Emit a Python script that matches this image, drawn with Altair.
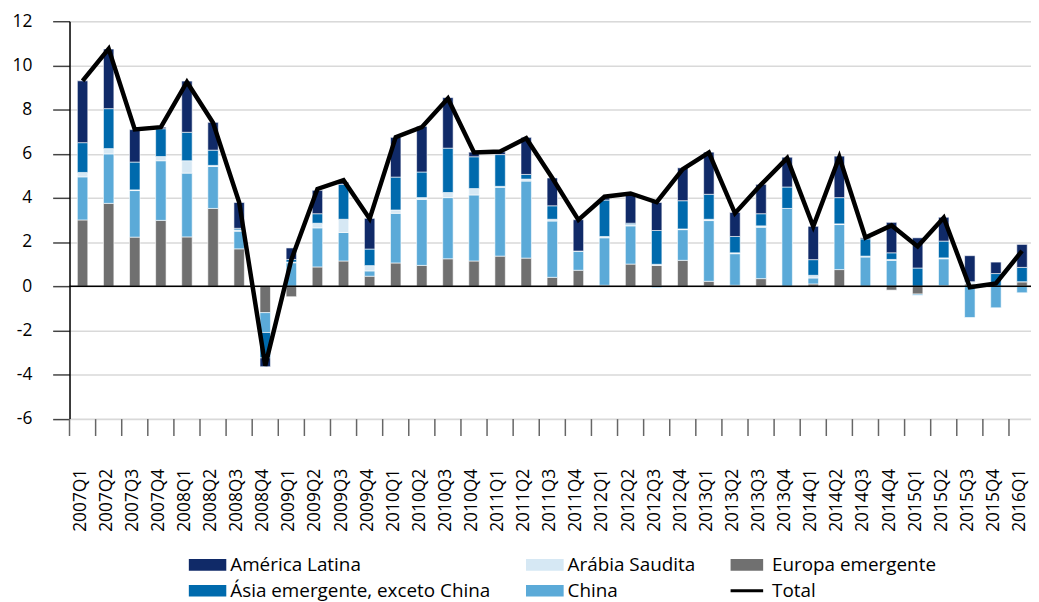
import altair as alt
import pandas as pd

quarters = [
    "2007Q1", "2007Q2", "2007Q3", "2007Q4", "2008Q1", "2008Q2", "2008Q3", "2008Q4",
    "2009Q1", "2009Q2", "2009Q3", "2009Q4", "2010Q1", "2010Q2", "2010Q3", "2010Q4",
    "2011Q1", "2011Q2", "2011Q3", "2011Q4", "2012Q1", "2012Q2", "2012Q3", "2012Q4",
    "2013Q1", "2013Q2", "2013Q3", "2013Q4", "2014Q1", "2014Q2", "2014Q3", "2014Q4",
    "2015Q1", "2015Q2", "2015Q3", "2015Q4", "2016Q1",
]

europa = [3.0, 3.75, 2.22, 2.98, 2.23, 3.52, 1.69, -1.2,
          -0.48, 0.87, 1.14, 0.45, 1.05, 0.94, 1.24, 1.14,
          1.36, 1.27, 0.40, 0.72, 0.04, 1.0, 0.94, 1.17,
          0.22, 0.04, 0.34, 0.0, 0.1, 0.75, 0.0, -0.18,
          -0.36, 0.02, 0.1, 0.0, 0.2]
china = [1.95, 2.24, 2.11, 2.7, 2.89, 1.9, 0.8, -0.9,
         1.06, 1.77, 1.29, 0.24, 2.25, 2.99, 2.77, 2.99,
         3.12, 3.49, 2.55, 0.85, 2.15, 1.73, -0.07, 1.39,
         2.75, 1.43, 2.33, 3.52, 0.27, 2.04, 1.32, 1.17,
         -0.05, 1.22, -1.42, -0.98, -0.3]
arabia = [0.2, 0.24, 0.03, 0.19, 0.56, 0.05, 0.06, 0.0,
          0.03, 0.21, 0.6, 0.24, 0.15, 0.08, 0.23, 0.29,
          0.04, 0.09, 0.08, 0.0, 0.06, 0.06, 0.05, 0.03,
          0.06, 0.04, 0.06, 0.0, 0.12, 0.03, 0.04, 0.04,
          0.0, 0.04, 0.1, 0.0, 0.0]
asia = [1.35, 1.81, 1.26, 1.26, 1.29, 0.69, 0.07, -1.15,
        0.12, 0.43, 1.58, 0.75, 1.49, 1.16, 2.01, 1.44,
        1.44, 0.21, 0.61, 0.02, 1.65, 0.06, 1.53, 1.28,
        1.13, 0.74, 0.55, 0.97, 0.71, 1.19, 0.78, 0.3,
        0.82, 0.76, 0.0, 0.57, 0.65]
latam = [2.8, 2.7, 1.47, 0.07, 2.32, 1.26, 1.17, -0.4,
         0.52, 1.06, 0.1, 1.39, 1.8, 2.07, 2.29, 0.21,
         0.12, 1.68, 1.26, 1.42, 0.1, 1.35, 1.27, 1.49,
         1.91, 1.09, 1.33, 1.35, 1.51, 1.88, 0.05, 1.38,
         1.37, 1.08, 1.18, 0.52, 1.04]
total = [9.3, 10.75, 7.1, 7.2, 9.25, 7.4, 3.8, -3.6,
         1.2, 4.4, 4.8, 3.05, 6.75, 7.2, 8.5, 6.05,
         6.1, 6.7, 4.9, 3.0, 4.05, 4.2, 3.8, 5.3,
         6.05, 3.3, 4.6, 5.8, 2.7, 5.85, 2.2, 2.75,
         1.8, 3.1, -0.05, 0.12, 1.6]

stack_names = ["Europa emergente", "China", "Arábia Saudita",
               "Ásia emergente, exceto China", "América Latina"]
stack_values = [europa, china, arabia, asia, latam]

legend_names = ["América Latina", "Arábia Saudita", "Europa emergente",
                "Ásia emergente, exceto China", "China", "Total"]
legend_colors = ["#102A68", "#D6E8F4", "#707070", "#006AAD", "#5BAAD8", "#000000"]

rows = []
for i, q in enumerate(quarters):
    for k, (name, vals) in enumerate(zip(stack_names, stack_values)):
        rows.append({"Trimestre": q, "Região": name, "Valor": vals[i], "ordem": k})
bars_df = pd.DataFrame(rows)
total_df = pd.DataFrame({"Trimestre": quarters, "Total": total})
zero_df = pd.DataFrame({"zero": [0]})

FONT = "Open Sans"
STEP = 26.3
N = len(quarters)
PLOT_H = 400.5

x_scale = alt.Scale(type="band", range=[0, STEP * N], paddingInner=0.6, paddingOuter=0.3)
x_axis = alt.Axis(
    title=None, labelAngle=270, labelAlign="right", labelBaseline="middle",
    labelFontSize=17.5, labelFont=FONT, labelColor="#000000", labelPadding=50,
    labelOffset=-2, ticks=False, domain=False, grid=False, labelOverlap=False,
)
y_axis = alt.Axis(
    title=None, values=list(range(-6, 13, 2)), labelFontSize=17.5, labelFont=FONT,
    labelColor="#000000", labelPadding=21, tickSize=17, tickColor="#444444",
    tickWidth=1.5, domainColor="#000000", domainWidth=1.5,
    gridColor="#D9D9D9", gridWidth=1.5,
    labelExpr="datum.value < 0 ? '-' + abs(datum.value) : datum.label",
)

rect_path = "M-1,-0.31H1V0.31H-1Z"
narrow_path = "M-1,-0.31H0.74V0.31H-1Z"
line_path = "M-1,-0.08H0.74V0.08H-1Z"
symbol_expr = (
    f"datum.value == 'Total' ? '{line_path}' : "
    f"(datum.value == 'Europa emergente' ? '{narrow_path}' : '{rect_path}')"
)

bars = alt.Chart(bars_df).mark_bar(stroke="white", strokeWidth=0.6).encode(
    x=alt.X("Trimestre:N", sort=quarters, scale=x_scale, axis=x_axis),
    y=alt.Y("sum(Valor):Q", scale=alt.Scale(domain=[-6, 12], nice=False), axis=y_axis),
    color=alt.Color(
        "Região:N",
        scale=alt.Scale(domain=legend_names, range=legend_colors),
        legend=alt.Legend(
            title=None, orient="none", legendX=120, legendY=541, columns=3,
            direction="horizontal", columnPadding=35, rowPadding=7,
            padding=0, clipHeight=14, symbolSize=1444, symbolStrokeWidth=0,
            symbolType={"expr": symbol_expr},
            labelFont=FONT, labelFontSize=19, labelColor="#000000", labelOffset=4,
            labelLimit=400,
        ),
    ),
    order=alt.Order("ordem:Q"),
)

# category-boundary tick marks below the plot (Excel style)
x_ticks = alt.Chart(total_df).mark_rule(
    color="#666666", strokeWidth=1.5, xOffset=-0.3 * STEP
).encode(
    x=alt.X("Trimestre:N", sort=quarters, scale=x_scale, axis=x_axis, bandPosition=0),
    y=alt.value(PLOT_H + 0.5),
    y2=alt.value(PLOT_H + 17.5),
)

zero_line = alt.Chart(zero_df).mark_rule(color="#000000", strokeWidth=1.5).encode(
    y="zero:Q"
)

line = alt.Chart(total_df).mark_line(color="#000000", strokeWidth=4.5).encode(
    x=alt.X("Trimestre:N", sort=quarters, scale=x_scale, axis=x_axis),
    y=alt.Y("Total:Q"),
)

chart = alt.layer(bars, x_ticks, zero_line, line).properties(
    width=969,
    height=PLOT_H,
    autosize=alt.AutoSizeParams(type="none"),
    padding={"left": 62, "top": 11, "right": 0, "bottom": 182},
).configure_view(stroke=None).configure(background="white")

chart.save("out.html", embed_options={"renderer": "svg", "actions": False})
